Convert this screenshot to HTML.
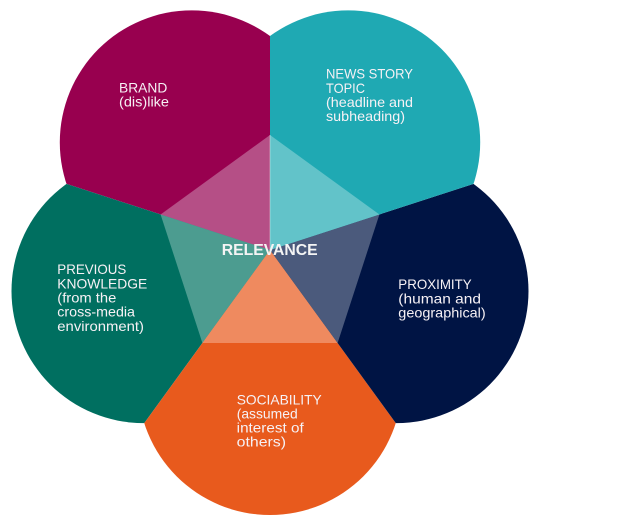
<!DOCTYPE html>
<html>
<head>
<meta charset="utf-8">
<style>
  html, body { margin: 0; padding: 0; background: #ffffff; }
  body { width: 624px; height: 516px; overflow: hidden; }
  svg { display: block; }
  text { font-family: "Liberation Sans", sans-serif; fill: #f6f1f5; font-size: 14px; }
  .b { font-weight: bold; font-size: 16px; fill: #f4f4f4; }
</style>
</head>
<body>
<svg width="624" height="516" viewBox="0 0 624 516" xmlns="http://www.w3.org/2000/svg">
  <defs>
    <clipPath id="sM"><polygon points="270,250 270,-150 -110.4,126.4"/></clipPath>
    <clipPath id="sG"><polygon points="270,250 -110.4,126.4 34.9,573.6"/></clipPath>
    <clipPath id="sO"><polygon points="270,250 34.9,573.6 505.1,573.6"/></clipPath>
    <clipPath id="sN"><polygon points="270,250 505.1,573.6 650.4,126.4"/></clipPath>
    <clipPath id="sT"><polygon points="270,250 650.4,126.4 270,-150"/></clipPath>
  </defs>

  <!-- outer circles clipped to sectors -->
  <circle cx="191.8" cy="142.4" r="132" fill="#98004f" clip-path="url(#sM)"/>
  <circle cx="143.5" cy="291.1" r="132" fill="#006f60" clip-path="url(#sG)"/>
  <circle cx="270" cy="383" r="132" fill="#e85a1d" clip-path="url(#sO)"/>
  <circle cx="396.5" cy="291.1" r="132" fill="#001444" clip-path="url(#sN)"/>
  <circle cx="348.2" cy="142.4" r="132" fill="#1fa9b3" clip-path="url(#sT)"/>

  <!-- inner pentagon triangles -->
  <polygon points="270,250 270,135 160.6,214.5" fill="#b54f86"/>
  <polygon points="270,250 160.6,214.5 202.4,343" fill="#4c9c90"/>
  <polygon points="270,250 202.4,343 337.6,343" fill="#ef8a5f"/>
  <polygon points="270,250 337.6,343 379.4,214.5" fill="#4b5a7c"/>
  <polygon points="270,250 379.4,214.5 270,135" fill="#62c3c9"/>
  <line x1="270" y1="135" x2="270" y2="250" stroke="rgba(255,255,255,0.35)" stroke-width="1"/>

  <!-- labels -->
  <text x="119" y="92.7" textLength="48.3" lengthAdjust="spacingAndGlyphs">BRAND</text>
  <text x="119" y="106.7" textLength="50" lengthAdjust="spacingAndGlyphs">(dis)like</text>

  <text x="326" y="78.3" textLength="87" lengthAdjust="spacingAndGlyphs">NEWS STORY</text>
  <text x="326" y="93" textLength="39" lengthAdjust="spacingAndGlyphs">TOPIC</text>
  <text x="326" y="106.9" textLength="87" lengthAdjust="spacingAndGlyphs">(headline and</text>
  <text x="326" y="121" textLength="79" lengthAdjust="spacingAndGlyphs">subheading)</text>

  <text x="57.3" y="274" textLength="69" lengthAdjust="spacingAndGlyphs">PREVIOUS</text>
  <text x="57.3" y="288.3" textLength="90" lengthAdjust="spacingAndGlyphs">KNOWLEDGE</text>
  <text x="57.3" y="302.3" textLength="59" lengthAdjust="spacingAndGlyphs">(from the</text>
  <text x="57.3" y="316.7" textLength="77.7" lengthAdjust="spacingAndGlyphs">cross-media</text>
  <text x="57.3" y="331" textLength="86.7" lengthAdjust="spacingAndGlyphs">environment)</text>

  <text x="236.7" y="404.3" textLength="85" lengthAdjust="spacingAndGlyphs">SOCIABILITY</text>
  <text x="236.7" y="418.3" textLength="61" lengthAdjust="spacingAndGlyphs">(assumed</text>
  <text x="236.7" y="432.7" textLength="67" lengthAdjust="spacingAndGlyphs">interest of</text>
  <text x="236.7" y="446.7" textLength="49.3" lengthAdjust="spacingAndGlyphs">others)</text>

  <text x="398.3" y="289" textLength="73.4" lengthAdjust="spacingAndGlyphs">PROXIMITY</text>
  <text x="398.3" y="303.3" textLength="82.7" lengthAdjust="spacingAndGlyphs">(human and</text>
  <text x="398.3" y="317.7" textLength="87.4" lengthAdjust="spacingAndGlyphs">geographical)</text>

  <text class="b" x="221.7" y="255" textLength="96" lengthAdjust="spacingAndGlyphs">RELEVANCE</text>
</svg>
</body>
</html>
